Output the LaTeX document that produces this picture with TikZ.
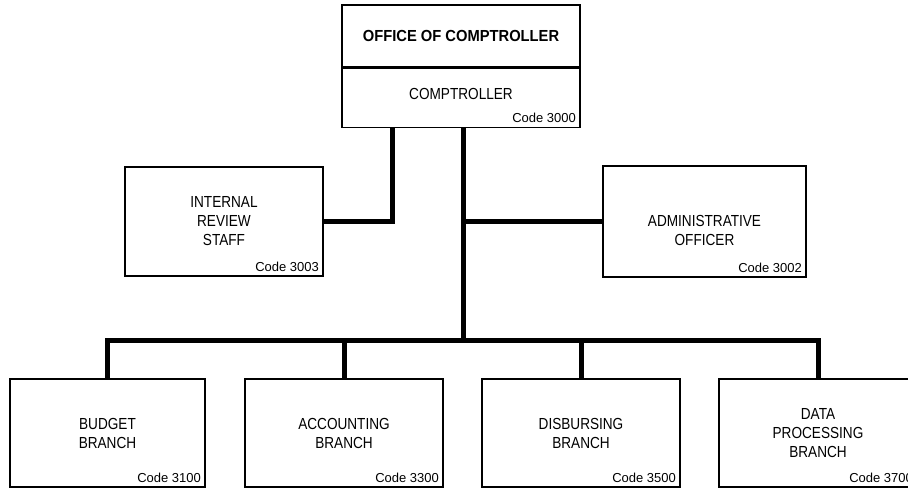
\documentclass[tikz,border=0pt]{standalone}
\usepackage{fontspec}
\setmainfont{Liberation Sans}[FakeStretch=0.85]
\newfontfamily\titlefont{Liberation Sans}[FakeStretch=0.92]
\newfontfamily\codefont{Liberation Sans}
\begin{document}
\begin{tikzpicture}[x=1pt,y=-1pt,
  unit/.style={draw,line width=1.2pt,rectangle,minimum width=198pt,minimum height=108pt,
    inner sep=0pt,align=center,font=\fontsize{16}{19}\selectfont},
  caption/.style={align=center,inner sep=0pt,font=\fontsize{16}{19}\selectfont},
  code/.style={font=\codefont\fontsize{13}{13}\selectfont,inner sep=4.5pt,anchor=south east},
  link/.style={line width=5pt,line join=miter}]
\useasboundingbox (0,0) rectangle (908,489);
\clip (0,0) rectangle (908,489);
% head office
\node[unit,minimum width=238pt,minimum height=62pt,
  font=\titlefont\bfseries\fontsize{16}{19}\selectfont] (office) at (461,36) {OFFICE OF COMPTROLLER};
\node[unit,minimum width=238pt,minimum height=59pt,anchor=north] (comp) at (office.south) {};
\node[caption] (comptitle) at ([yshift=4pt]comp.center) {COMPTROLLER};
\node[code] (compcode) at (comp.south east) {Code 3000};
% staff offices
\node[unit,minimum height=109pt] (review) at (224,221.5) {INTERNAL\\REVIEW\\STAFF};
\node[code] (reviewcode) at (review.south east) {Code 3003};
\node[unit,minimum width=203pt,minimum height=111pt] (admin) at (704.5,221.5) {};
\node[caption] (admintitle) at ([yshift=-9pt]admin.center) {ADMINISTRATIVE\\OFFICER};
\node[code] (admincode) at (admin.south east) {Code 3002};
% branches
\node[unit,minimum width=195pt] (budget) at (107.5,433) {BUDGET\\BRANCH};
\node[unit] (accounting) at (344,433) {ACCOUNTING\\BRANCH};
\node[unit] (disbursing) at (581,433) {DISBURSING\\BRANCH};
\node[unit] (dataproc) at (818,433) {DATA\\PROCESSING\\BRANCH};
\node[code] at (budget.south east) {Code 3100};
\node[code] at (accounting.south east) {Code 3300};
\node[code] at (disbursing.south east) {Code 3500};
\node[code] at (dataproc.south east) {Code 3700};
% connectors
\coordinate (bus) at (463,340);
\coordinate (side) at (392,0);
\draw[link] (review.east) -| (comp.south -| side);
\draw[link] (comp.south -| bus) -- (bus);
\draw[link] (admin.west -| bus) -- (admin.west);
\draw[link] (budget.north) |- (bus) -| (dataproc.north);
\draw[link] (accounting.north) -- (accounting.north |- bus);
\draw[link] (disbursing.north) -- (disbursing.north |- bus);
\end{tikzpicture}
\end{document}
